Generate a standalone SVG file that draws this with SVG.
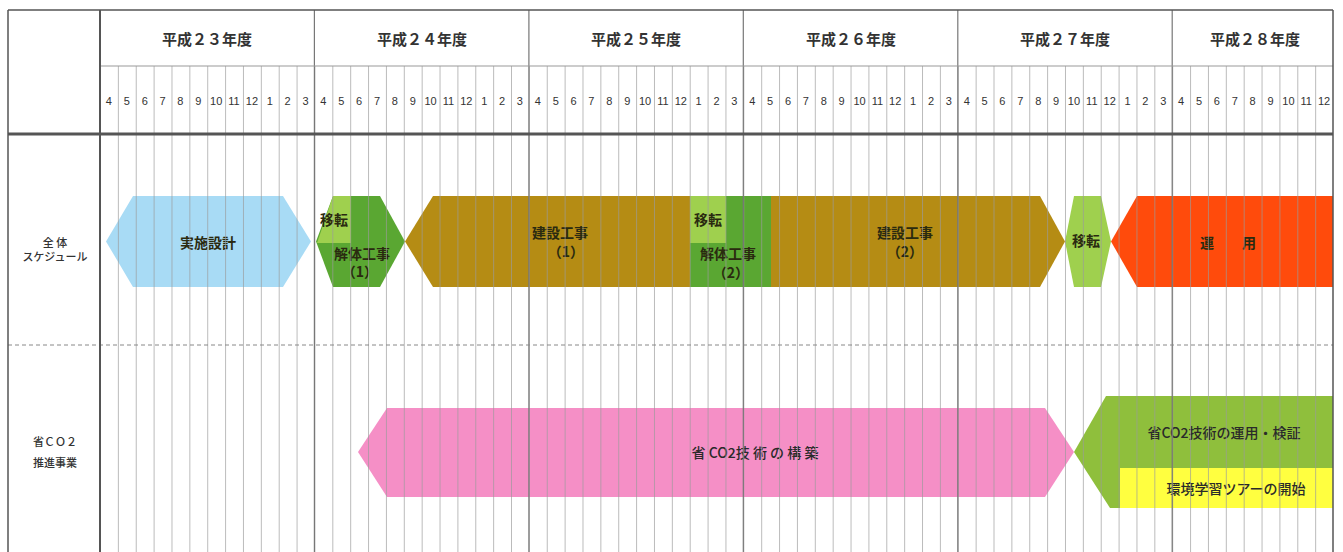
<svg xmlns="http://www.w3.org/2000/svg" width="1343" height="552" viewBox="0 0 1343 552">
<style>
.yr{font-family:"Noto Sans CJK JP","Noto Sans",sans-serif;font-size:15px;font-weight:bold;fill:#333;text-anchor:middle}
.mo{font-family:"Liberation Sans",Arial,sans-serif;font-size:11px;fill:#333;text-anchor:middle}
.lb{font-family:"Noto Sans CJK JP",sans-serif;font-size:11px;font-weight:500;fill:#333;text-anchor:middle}
.tx{font-family:"Noto Sans CJK JP",sans-serif;font-size:14px;font-weight:bold;fill:#2a2a10;text-anchor:middle}
.tp{font-family:"Noto Sans CJK JP",sans-serif;font-size:14px;font-weight:500;fill:#2a2a2a;text-anchor:middle}
.yl{stroke:#777;stroke-width:1.2}
</style>
<defs>
<pattern id="mgrid" x="100" y="0" width="17.87" height="552" patternUnits="userSpaceOnUse">
<line x1="0.5" y1="0" x2="0.5" y2="552" stroke="#9a9a9a" stroke-width="0.9"/>
</pattern>
</defs>
<rect width="1343" height="552" fill="#fff"/>

<g id="nodes">
<g id="jisshi-sekkei">
<polygon points="106,241.5 133,196 283,196 311,241.5 283,287 133,287" fill="#a8dbf5"/>
<text class="tx" x="208" y="248">実施設計</text>
</g>
<g id="kaitai-1">
<polygon points="316,241.5 333,196 380,196 405,241.5 380,287 333,287" fill="#5aa732"/>
<polygon points="317,243 333,196 351,196 351,243" fill="#9fd04e"/>
<text class="tx" x="334" y="225">移転</text>
<text class="tx" x="362" y="259">解体工事</text>
<text class="tx" x="360" y="277">（1）</text>
</g>
<g id="kensetsu">
<polygon points="405,241.5 433,196 1040,196 1065,241.5 1040,287 433,287" fill="#b58c14"/>
<text class="tx" x="560" y="238">建設工事</text>
<text class="tx" x="566" y="257">（1）</text>
<text class="tx" x="905" y="238">建設工事</text>
<text class="tx" x="905" y="257">（2）</text>
</g>
<g id="kaitai-2">
<rect x="690" y="196" width="81" height="91" fill="#5aa732"/>
<rect x="690" y="196" width="36" height="47" fill="#9fd04e"/>
<text class="tx" x="708" y="225">移転</text>
<text class="tx" x="728" y="259">解体工事</text>
<text class="tx" x="731" y="278">（2）</text>
</g>
<g id="iten">
<polygon points="1065,241.5 1074,196 1101,196 1111,241.5 1101,287 1074,287" fill="#9fd04e"/>
<text class="tx" x="1086" y="246">移転</text>
</g>
<g id="unyou">
<polygon points="1111,241.5 1137,196 1333,196 1333,287 1137,287" fill="#ff4b0c"/>
<text class="tx" x="1228" y="248">運　　用</text>
</g>
<g id="co2-kouchiku">
<polygon points="358,452 387,408 1045,408 1074,452 1045,497 387,497" fill="#f58fc6"/>
<text class="tp" x="755" y="458">省 CO2技 術 の 構 築</text>
</g>
<g id="co2-unyou">
<polygon points="1074,452 1106,396 1333,396 1333,508 1110,508" fill="#8fbf3c"/>
<rect x="1120" y="468" width="213" height="40" fill="#ffff40"/>
<text class="tp" x="1224" y="438">省CO2技術の運用・検証</text>
<text class="tp" x="1236" y="494">環境学習ツアーの開始</text>
</g>
</g>

<g id="grid">
<rect x="100" y="66" width="1233" height="486" fill="url(#mgrid)" opacity="0.75"/>
<line class="yl" x1="314.4" y1="10" x2="314.4" y2="552"/>
<line class="yl" x1="528.9" y1="10" x2="528.9" y2="552"/>
<line class="yl" x1="743.3" y1="10" x2="743.3" y2="552"/>
<line class="yl" x1="957.8" y1="10" x2="957.8" y2="552"/>
<line class="yl" x1="1172.2" y1="10" x2="1172.2" y2="552"/>
<line x1="100" y1="66" x2="1333" y2="66" stroke="#999" stroke-width="1"/>
<line x1="8" y1="345" x2="1333" y2="345" stroke="#888" stroke-width="1" stroke-dasharray="4,3"/>
<line x1="8" y1="134" x2="1333" y2="134" stroke="#555" stroke-width="3"/>
<line x1="8" y1="10" x2="1333" y2="10" stroke="#555" stroke-width="1.5"/>
<line x1="8" y1="10" x2="8" y2="552" stroke="#555" stroke-width="1.5"/>
<line x1="100" y1="10" x2="100" y2="552" stroke="#555" stroke-width="2"/>
<line x1="1333" y1="10" x2="1333" y2="552" stroke="#555" stroke-width="1.5"/>
</g>

<g id="header">
<text class="yr" x="207" y="45">平成２３年度</text>
<text class="yr" x="422" y="45">平成２４年度</text>
<text class="yr" x="636" y="45">平成２５年度</text>
<text class="yr" x="851" y="45">平成２６年度</text>
<text class="yr" x="1065" y="45">平成２７年度</text>
<text class="yr" x="1255" y="45">平成２８年度</text>
<g class="mo-row">
<text class="mo" x="108.9" y="105">4</text><text class="mo" x="126.8" y="105">5</text><text class="mo" x="144.7" y="105">6</text><text class="mo" x="162.5" y="105">7</text><text class="mo" x="180.4" y="105">8</text><text class="mo" x="198.3" y="105">9</text><text class="mo" x="216.2" y="105">10</text><text class="mo" x="234.0" y="105">11</text><text class="mo" x="251.9" y="105">12</text><text class="mo" x="269.8" y="105">1</text><text class="mo" x="287.6" y="105">2</text><text class="mo" x="305.5" y="105">3</text>
<text class="mo" x="323.4" y="105">4</text><text class="mo" x="341.2" y="105">5</text><text class="mo" x="359.1" y="105">6</text><text class="mo" x="377.0" y="105">7</text><text class="mo" x="394.9" y="105">8</text><text class="mo" x="412.7" y="105">9</text><text class="mo" x="430.6" y="105">10</text><text class="mo" x="448.5" y="105">11</text><text class="mo" x="466.3" y="105">12</text><text class="mo" x="484.2" y="105">1</text><text class="mo" x="502.1" y="105">2</text><text class="mo" x="519.9" y="105">3</text>
<text class="mo" x="537.8" y="105">4</text><text class="mo" x="555.7" y="105">5</text><text class="mo" x="573.6" y="105">6</text><text class="mo" x="591.4" y="105">7</text><text class="mo" x="609.3" y="105">8</text><text class="mo" x="627.2" y="105">9</text><text class="mo" x="645.0" y="105">10</text><text class="mo" x="662.9" y="105">11</text><text class="mo" x="680.8" y="105">12</text><text class="mo" x="698.6" y="105">1</text><text class="mo" x="716.5" y="105">2</text><text class="mo" x="734.4" y="105">3</text>
<text class="mo" x="752.3" y="105">4</text><text class="mo" x="770.1" y="105">5</text><text class="mo" x="788.0" y="105">6</text><text class="mo" x="805.9" y="105">7</text><text class="mo" x="823.7" y="105">8</text><text class="mo" x="841.6" y="105">9</text><text class="mo" x="859.5" y="105">10</text><text class="mo" x="877.4" y="105">11</text><text class="mo" x="895.2" y="105">12</text><text class="mo" x="913.1" y="105">1</text><text class="mo" x="931.0" y="105">2</text><text class="mo" x="948.8" y="105">3</text>
<text class="mo" x="966.7" y="105">4</text><text class="mo" x="984.6" y="105">5</text><text class="mo" x="1002.4" y="105">6</text><text class="mo" x="1020.3" y="105">7</text><text class="mo" x="1038.2" y="105">8</text><text class="mo" x="1056.1" y="105">9</text><text class="mo" x="1073.9" y="105">10</text><text class="mo" x="1091.8" y="105">11</text><text class="mo" x="1109.7" y="105">12</text><text class="mo" x="1127.5" y="105">1</text><text class="mo" x="1145.4" y="105">2</text><text class="mo" x="1163.3" y="105">3</text>
<text class="mo" x="1181.1" y="105">4</text><text class="mo" x="1199.0" y="105">5</text><text class="mo" x="1216.9" y="105">6</text><text class="mo" x="1234.8" y="105">7</text><text class="mo" x="1252.6" y="105">8</text><text class="mo" x="1270.5" y="105">9</text><text class="mo" x="1288.4" y="105">10</text><text class="mo" x="1306.2" y="105">11</text><text class="mo" x="1324.1" y="105">12</text>
</g>
</g>

<g id="row-labels">
<text class="lb" x="55" y="247">全 体</text>
<text class="lb" x="55" y="261">スケジュール</text>
<text class="lb" x="55" y="446">省ＣＯ２</text>
<text class="lb" x="55" y="467">推進事業</text>
</g>
</svg>
